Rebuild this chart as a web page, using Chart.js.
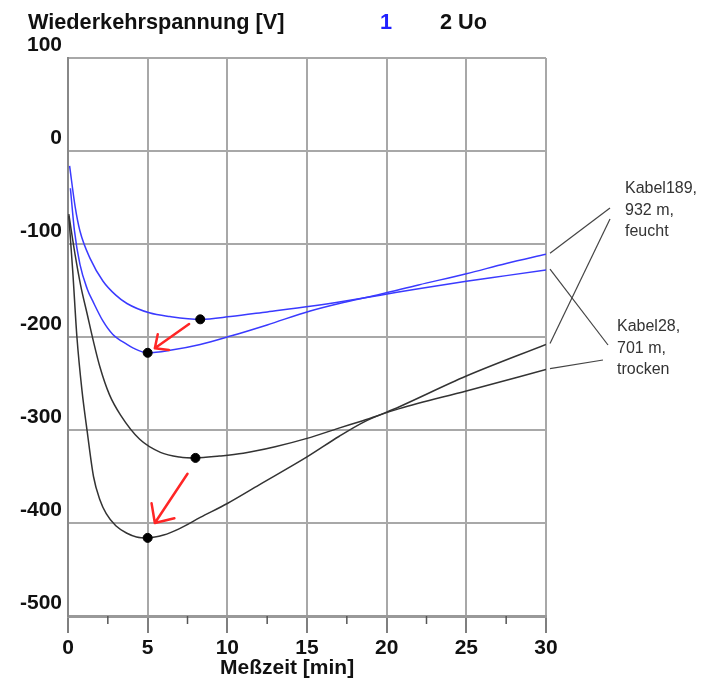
<!DOCTYPE html>
<html>
<head>
<meta charset="utf-8">
<title>Wiederkehrspannung</title>
<script src="https://cdn.jsdelivr.net/npm/chart.js@4"></script>
<style>
  html, body { margin: 0; padding: 0; background: #fff; }
  canvas { display: block; }
</style>
</head>
<body>
<canvas id="chart" width="704" height="686"></canvas>
<script>
//curve 1 (blue), Kabel28
const b1Time = [0.1, 0.45, 0.75, 1.4, 2.2, 3.0, 3.7, 5.1, 6.4, 8.3, 10.2, 12.5, 15.2, 17.5, 19.6, 22, 25, 27.5, 30];
const b1Volt = [-16, -60, -86, -116, -140, -155, -164, -174, -178, -181, -178, -173, -167, -161, -155, -148, -140, -134, -128];

//curve 1 (blue), Kabel189
const b2Time = [0.15, 0.4, 0.75, 1.2, 1.6, 2.2, 2.8, 3.7, 4.1, 5.0, 6.5, 8.3, 10.2, 12.5, 15.2, 17.5, 19.6, 22, 25, 27.5, 30];
const b2Volt = [-40, -85, -122, -148, -163, -183, -197, -208, -212, -217, -214, -208, -199, -187, -172, -162, -154, -144, -132, -121, -111];

//curve 2 Uo (black), Kabel28
const k1Time = [0.05, 0.45, 0.8, 1.2, 1.6, 2.0, 2.6, 3.3, 4.5, 5.8, 7.0, 8.0, 9.5, 11, 13, 15, 17, 18.5, 20.8, 25, 30];
const k1Volt = [-68, -112, -145, -175, -205, -232, -262, -284, -310, -324, -329, -330, -328, -325, -318, -309, -298, -290, -277, -258, -235];

//curve 2 Uo (black), Kabel189
const k2Time = [0.05, 0.3, 0.56, 0.88, 1.2, 1.6, 2.0, 2.4, 3.0, 3.7, 4.3, 5.0, 6.0, 7.0, 8.3, 10, 12, 15, 17, 18.5, 20.8, 25, 30];
const k2Volt = [-70, -130, -200, -258, -301, -350, -375, -390, -403, -411, -415, -416, -413, -406, -394, -379, -359, -329, -307, -292, -275, -242, -208];

//marked minima
const dotTime = [8.3, 5.0, 8.0, 5.0];
const dotVolt = [-181, -217, -330, -416];

//red arrows from one minimum to the other
const arrowFromTime = [7.6, 7.5];
const arrowFromVolt = [-186, -347];
const arrowToTime = [5.45, 5.45];
const arrowToVolt = [-212, -400];

//axis ticks
const xTicks = [0, 5, 10, 15, 20, 25, 30];
const yTicks = [100, 0, -100, -200, -300, -400, -500];

//cable notes on the right
const cableNotes = [["Kabel189,", "932 m,", "feucht"], ["Kabel28,", "701 m,", "trocken"]];

//turn two arrays into {x, y} points
function points(xs, ys) {
  return xs.map((x, i) => ({ x: x, y: ys[i] }));
}

function curve(xs, ys, color) {
  return {
    data: points(xs, ys),
    borderColor: color,
    borderWidth: 1.5,
    pointRadius: 0,
    cubicInterpolationMode: "monotone",
    fill: false
  };
}

//titles, arrows, minor ticks and the cable notes
const overlay = {
  id: "overlay",

  afterDatasetsDraw(chart) {
    const ctx = chart.ctx;
    const xs = chart.scales.x;
    const ys = chart.scales.y;

    ctx.save();
    ctx.strokeStyle = "#ff2626";
    ctx.lineWidth = 2.5;
    ctx.lineCap = "round";
    for (let i = 0; i < arrowFromTime.length; i++) {
      const x0 = xs.getPixelForValue(arrowFromTime[i]);
      const y0 = ys.getPixelForValue(arrowFromVolt[i]);
      const x1 = xs.getPixelForValue(arrowToTime[i]);
      const y1 = ys.getPixelForValue(arrowToVolt[i]);
      const ang = Math.atan2(y1 - y0, x1 - x0);
      const wing = Math.hypot(x1 - x0, y1 - y0) * 0.34; //head grows with the shaft
      ctx.beginPath();
      ctx.moveTo(x0, y0);
      ctx.lineTo(x1, y1);
      for (const s of [-1, 1]) {
        const a = ang + Math.PI + s * 0.75;
        ctx.moveTo(x1, y1);
        ctx.lineTo(x1 + wing * Math.cos(a), y1 + wing * Math.sin(a));
      }
      ctx.stroke();
    }
    ctx.restore();
  },

  afterDraw(chart) {
    const ctx = chart.ctx;
    const xs = chart.scales.x;
    const ys = chart.scales.y;
    const area = chart.chartArea;

    ctx.save();

    //minor ticks halfway between the labelled ones
    ctx.strokeStyle = "#555";
    ctx.lineWidth = 1.5;
    for (let i = 0; i < xTicks.length - 1; i++) {
      const x = xs.getPixelForValue((xTicks[i] + xTicks[i + 1]) / 2);
      ctx.beginPath();
      ctx.moveTo(x, area.bottom);
      ctx.lineTo(x, area.bottom + 8);
      ctx.stroke();
    }

    //title line with the series key
    ctx.textBaseline = "middle";
    ctx.font = "bold 21.7px 'Liberation Sans', Arial, sans-serif";
    ctx.fillStyle = "#111";
    ctx.fillText("Wiederkehrspannung [V]", 28, 23);
    ctx.fillStyle = "#2020ff";
    ctx.fillText("1", 380, 23);
    ctx.fillStyle = "#111";
    ctx.fillText("2 Uo", 440, 23);

    //x axis title
    ctx.font = "bold 21px 'Liberation Sans', Arial, sans-serif";
    ctx.fillText("Meßzeit [min]", 220, 668);

    //leader lines from the curve ends to the notes
    const ends = [
      [b2Volt[b2Volt.length - 1], 610, 208],
      [k2Volt[k2Volt.length - 1], 610, 219],
      [b1Volt[b1Volt.length - 1], 608, 345],
      [k1Volt[k1Volt.length - 1], 603, 360]
    ];
    ctx.strokeStyle = "#444";
    ctx.lineWidth = 1.2;
    const xEnd = xs.getPixelForValue(30);
    ends.forEach(e => {
      ctx.beginPath();
      ctx.moveTo(xEnd + 4, ys.getPixelForValue(e[0]) - 1);
      ctx.lineTo(e[1], e[2]);
      ctx.stroke();
    });

    //note texts
    ctx.font = "16px 'Liberation Sans Narrow', 'Liberation Sans', Arial, sans-serif";
    ctx.fillStyle = "#333";
    const noteX = [625, 617];
    const noteY = [189, 327];
    cableNotes.forEach((lines, j) => {
      lines.forEach((t, k) => ctx.fillText(t, noteX[j], noteY[j] + k * 21.5));
    });

    ctx.restore();
  }
};

const ctxChart = document.getElementById("chart");

new Chart(ctxChart, {
  type: "line",

  data: {
    datasets: [
      {
        data: points(dotTime, dotVolt),
        showLine: false,
        pointRadius: 4.5,
        pointBackgroundColor: "#000",
        pointBorderColor: "#000"
      },
      curve(b1Time, b1Volt, "#3a3aff"),
      curve(b2Time, b2Volt, "#3a3aff"),
      curve(k1Time, k1Volt, "#333"),
      curve(k2Time, k2Volt, "#333")
    ]
  },

  options: {
    responsive: false,
    animation: false,
    devicePixelRatio: 1,
    layout: {
      padding: { top: 58, left: 0, right: 158, bottom: 0 }
    },
    plugins: {
      legend: { display: false },
      tooltip: { enabled: false }
    },

    scales: {
      x: {
        type: "linear",
        min: xTicks[0],
        max: xTicks[xTicks.length - 1],
        afterFit: s => { s.height = 70; },
        afterBuildTicks: s => { s.ticks = xTicks.map(v => ({ value: v })); },
        grid: {
          color: "#a8a8a8",
          lineWidth: 2,
          tickLength: 17,
          tickColor: "#555",
          tickWidth: 1.5
        },
        border: { color: "#999", width: 3 },
        ticks: {
          padding: 3,
          color: "#111",
          font: { size: 21, weight: "bold" }
        }
      },

      y: {
        min: yTicks[yTicks.length - 1],
        max: yTicks[0],
        afterFit: s => { s.width = 68; },
        afterBuildTicks: s => { s.ticks = yTicks.map(v => ({ value: v })); },
        grid: {
          color: "#a8a8a8",
          lineWidth: 2,
          drawTicks: false
        },
        border: { color: "#888", width: 2 },
        ticks: {
          padding: 6,
          labelOffset: -13,
          color: "#111",
          font: { size: 21, weight: "bold" }
        }
      }
    }
  },

  plugins: [overlay]
});
</script>
</body>
</html>
